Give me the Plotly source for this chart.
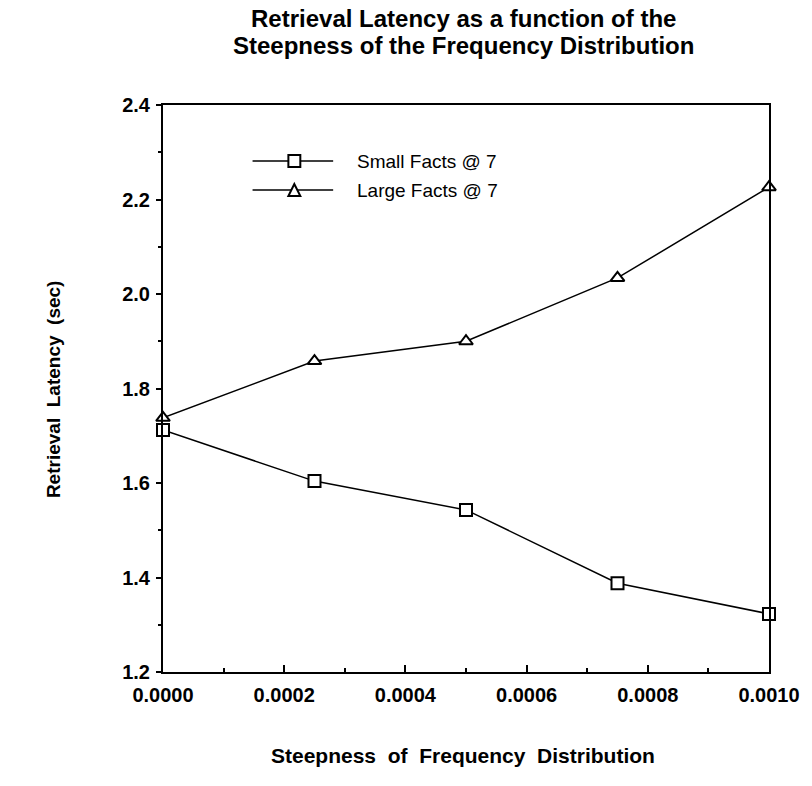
import plotly.graph_objects as go

# data
steepness = [0.0, 0.00025, 0.0005, 0.00075, 0.001]
small_facts = [1.712, 1.604, 1.543, 1.388, 1.323]
large_facts = [1.738, 1.858, 1.900, 2.034, 2.226]
series_names = ["Small Facts @ 7", "Large Facts @ 7"]
title_lines = ["Retrieval Latency as a function of the", "Steepness of the Frequency Distribution"]
x_ticks = [0.0, 0.0002, 0.0004, 0.0006, 0.0008, 0.0010]
y_ticks = [1.2, 1.4, 1.6, 1.8, 2.0, 2.2, 2.4]

FONT = "Liberation Sans, Arial, sans-serif"

fig = go.Figure()
fig.add_trace(go.Scatter(
    x=steepness, y=small_facts, name=series_names[0], mode="lines+markers",
    line=dict(color="black", width=1.5),
    marker=dict(symbol="square", size=12, color="white", line=dict(color="black", width=2)),
    cliponaxis=False,
))
fig.add_trace(go.Scatter(
    x=steepness, y=large_facts, name=series_names[1], mode="lines+markers",
    line=dict(color="black", width=1.5),
    marker=dict(symbol="triangle-up", size=12, color="white", line=dict(color="black", width=2)),
    cliponaxis=False,
))

# plot box in pixels
L, R, T, B = 163, 40, 105, 114
W, H = 812 - L - R, 786 - T - B


def px_x(p):
    return (p - L) / W


def px_y(p):
    return (786 - B - p) / H


# hand-drawn legend (long line with the marker in the middle)
shapes = []
for yy in [161, 190]:
    shapes.append(dict(type="line", xref="paper", yref="paper",
                       x0=px_x(253), x1=px_x(334), y0=px_y(yy), y1=px_y(yy),
                       line=dict(color="black", width=1.5)))
shapes.append(dict(type="rect", xref="paper", yref="paper",
                   x0=px_x(289), x1=px_x(301), y0=px_y(167), y1=px_y(155),
                   fillcolor="white", line=dict(color="black", width=2)))
shapes.append(dict(type="path", xref="paper", yref="paper",
                   path="M {:.4f} {:.4f} L {:.4f} {:.4f} L {:.4f} {:.4f} Z".format(
                       px_x(289), px_y(196), px_x(301), px_y(196), px_x(295), px_y(184)),
                   fillcolor="white", line=dict(color="black", width=2)))

annotations = [
    dict(x=px_x(356), y=px_y(161), xref="paper", yref="paper", text=series_names[0],
         showarrow=False, xanchor="left", yanchor="middle", font=dict(size=19, color="black")),
    dict(x=px_x(356), y=px_y(190), xref="paper", yref="paper", text=series_names[1],
         showarrow=False, xanchor="left", yanchor="middle", font=dict(size=19, color="black")),
    # two title lines, set tight like the original
    dict(x=px_x(465), y=px_y(19), xref="paper", yref="paper", text="<b>" + title_lines[0] + "</b>",
         showarrow=False, yanchor="middle", font=dict(size=24, color="black")),
    dict(x=px_x(465), y=px_y(46), xref="paper", yref="paper", text="<b>" + title_lines[1] + "</b>",
         showarrow=False, yanchor="middle", font=dict(size=24, color="black")),
    dict(x=px_x(40), y=px_y(389), xref="paper", yref="paper", text="<b>Retrieval  Latency  (sec)</b>",
         showarrow=False, textangle=-90, font=dict(size=19, color="black")),
    dict(x=px_x(464), y=px_y(769), xref="paper", yref="paper",
         text="<b>Steepness  of  Frequency  Distribution</b>",
         showarrow=False, font=dict(size=21, color="black")),
]

fig.update_layout(
    width=812, height=786,
    paper_bgcolor="white", plot_bgcolor="white",
    font=dict(family=FONT, color="black"),
    margin=dict(l=L, r=R, t=T, b=B),
    showlegend=False,
    shapes=shapes,
    annotations=annotations,
)
fig.update_xaxes(
    range=[0, 0.001], tickvals=x_ticks, tickformat=".4f",
    showgrid=False, zeroline=False, showline=True, linecolor="black", linewidth=2, mirror=True,
    ticks="inside", ticklen=7, tickwidth=1.5, tickcolor="black",
    minor=dict(dtick=0.0001, ticks="inside", ticklen=4, tickcolor="black"),
    ticklabelstandoff=4,
    tickfont=dict(size=20, family=FONT, weight="bold"),
)
fig.update_yaxes(
    range=[1.2, 2.4], tickvals=y_ticks, tickformat=".1f",
    showgrid=False, zeroline=False, showline=True, linecolor="black", linewidth=2, mirror=True,
    ticks="outside", ticklen=5, tickwidth=1.5, tickcolor="black",
    minor=dict(dtick=0.1, ticks="outside", ticklen=3, tickcolor="black"),
    ticklabelstandoff=2,
    tickfont=dict(size=20, family=FONT, weight="bold"),
)

fig.write_html("out.html", config={"displayModeBar": False},
               post_script="document.body.style.margin='0';")
